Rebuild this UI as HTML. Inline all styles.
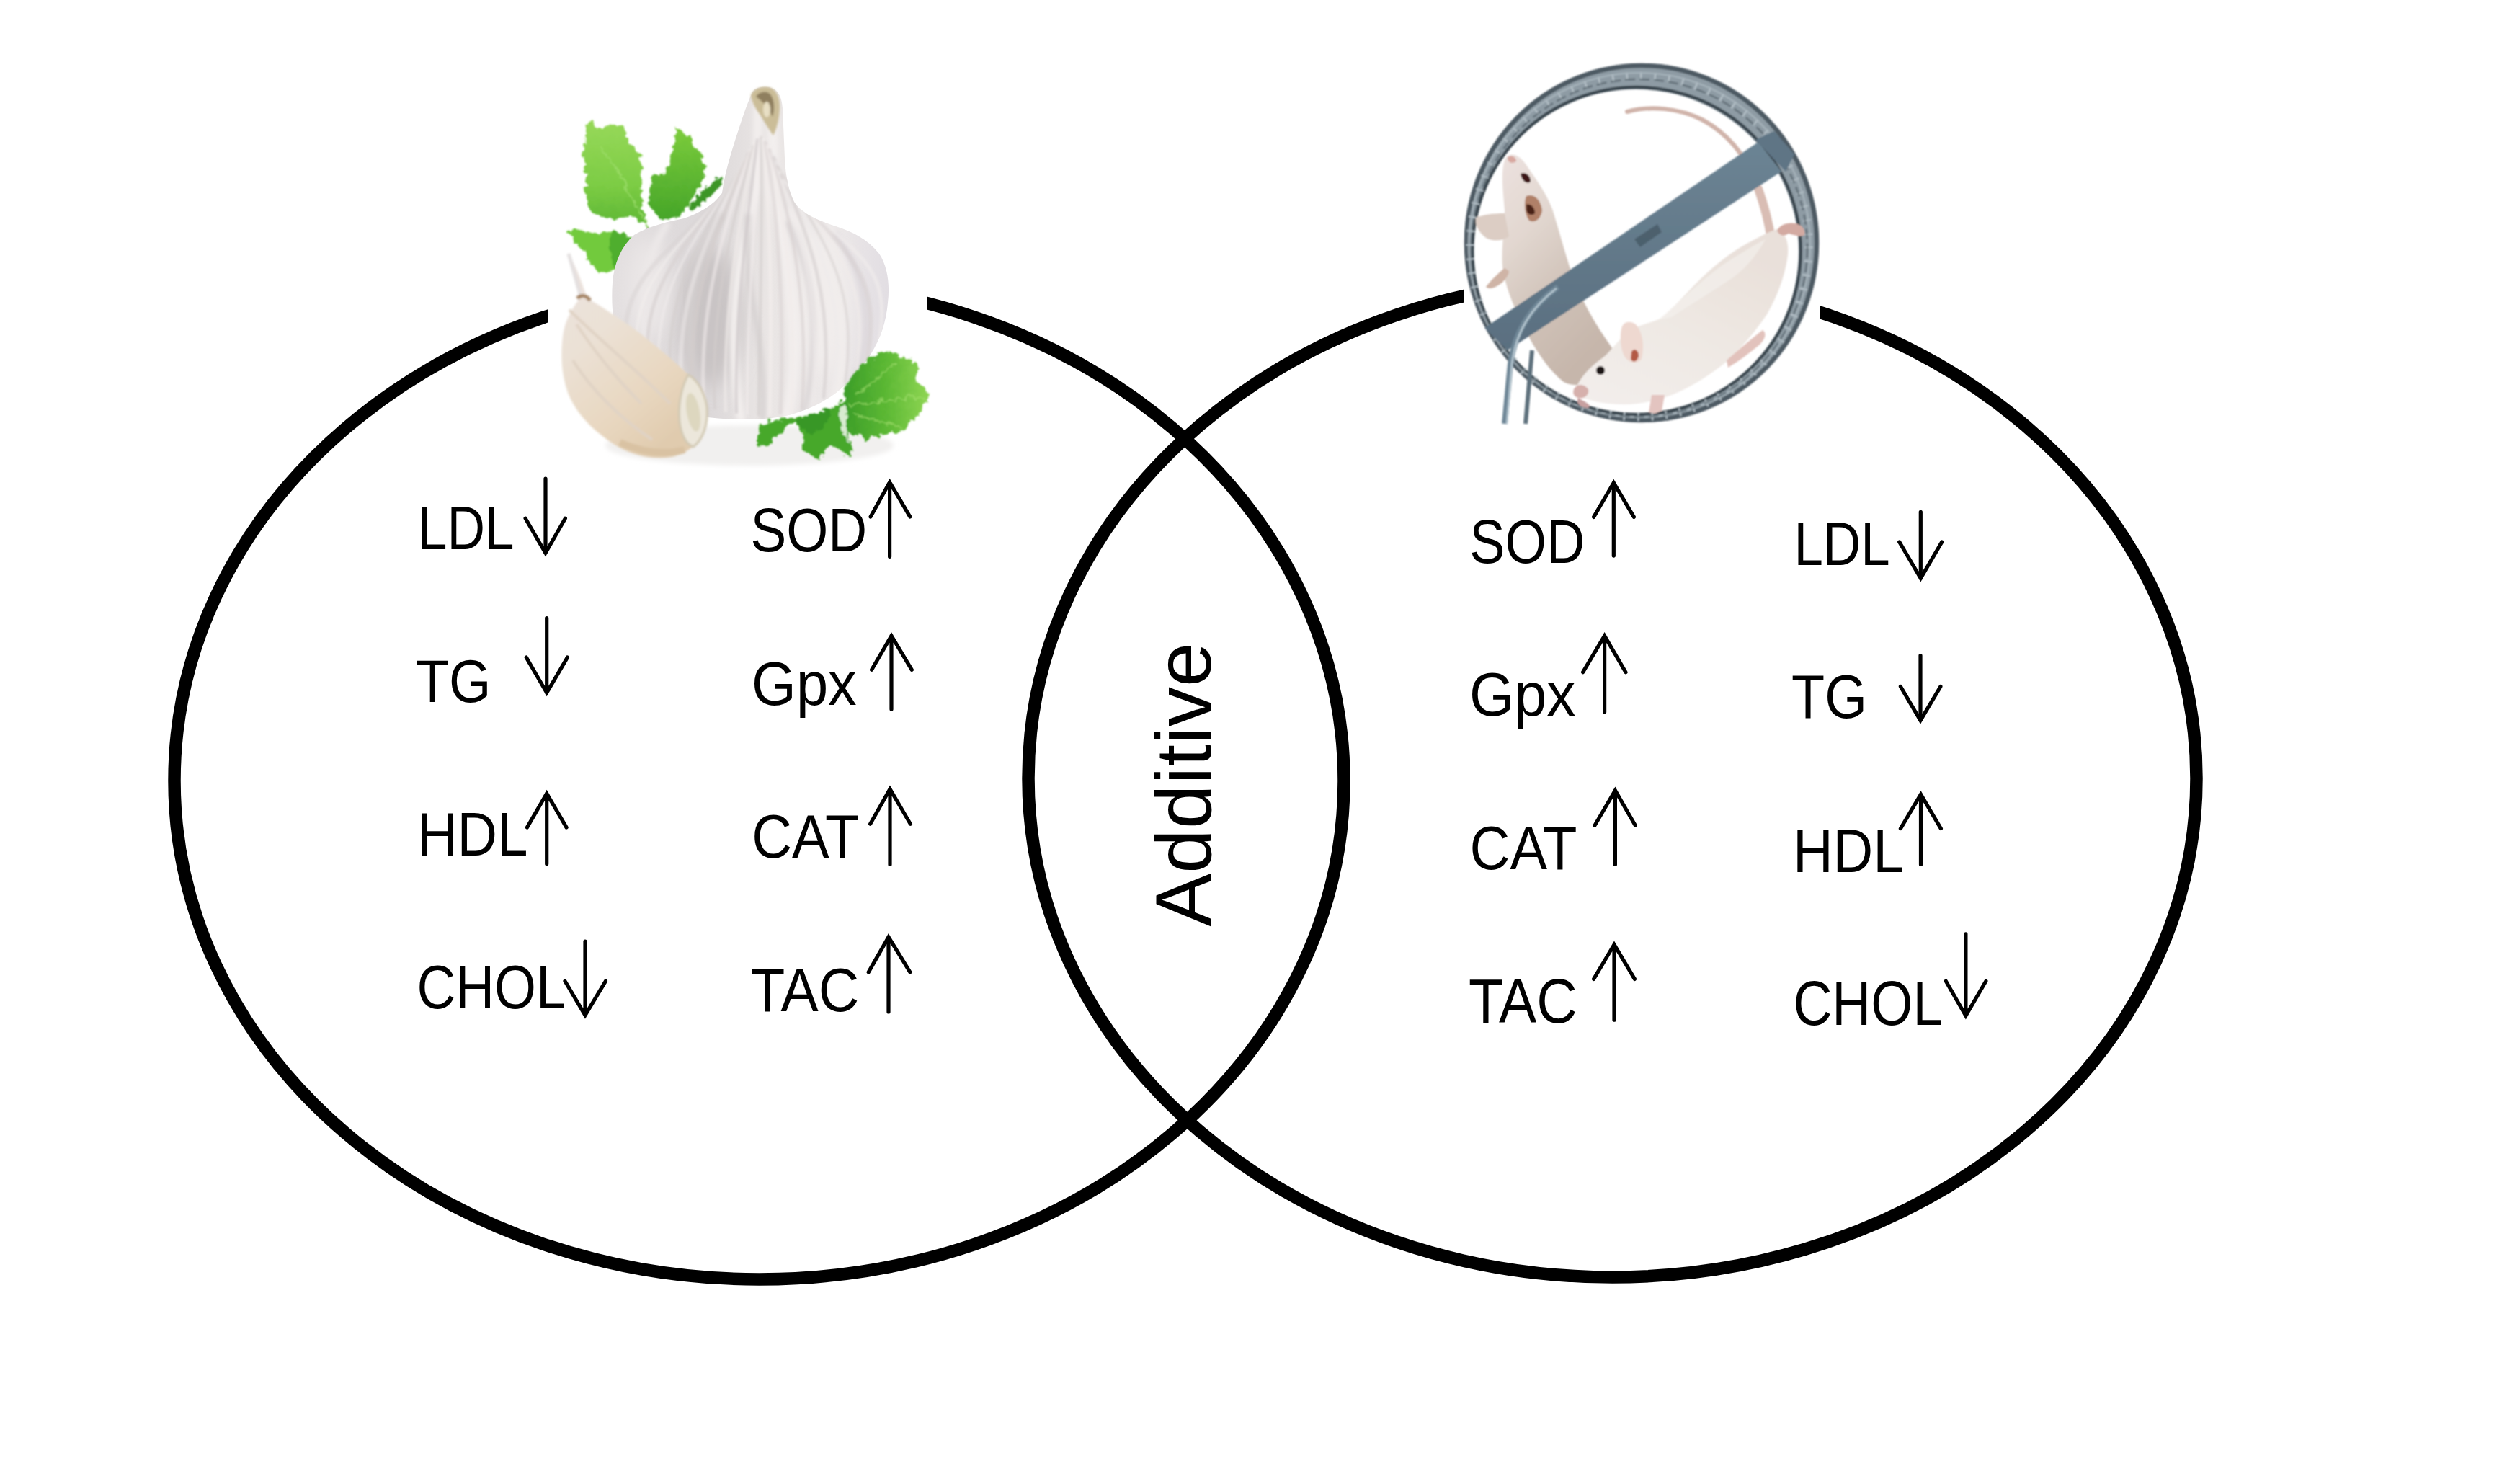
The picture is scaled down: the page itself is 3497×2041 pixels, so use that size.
<!DOCTYPE html>
<html><head><meta charset="utf-8"><title>Garlic and exercise Venn diagram</title>
<style>
html,body{margin:0;padding:0;background:#fff;}
body{width:3497px;height:2041px;overflow:hidden;font-family:"Liberation Sans", sans-serif;}
svg{display:block;}
</style></head><body>
<svg width="3497" height="2041" viewBox="0 0 3497 2041">
<rect width="3497" height="2041" fill="#fff"/>

<g fill="none" stroke="#000" stroke-width="17.5">
<ellipse cx="1053.5" cy="1083.3" rx="811.5" ry="691.7"/>
<ellipse cx="2237.5" cy="1080" rx="810.5" ry="692"/>
</g>

<g font-family='"Liberation Sans", sans-serif' fill="#000">
<text x="579.9" y="761.8" font-size="85.8" textLength="133.6" lengthAdjust="spacingAndGlyphs">LDL</text>
<text x="577.2" y="973.6" font-size="83.7" textLength="104.3" lengthAdjust="spacingAndGlyphs">TG</text>
<text x="578.9" y="1187.0" font-size="85.8" textLength="153.7" lengthAdjust="spacingAndGlyphs">HDL</text>
<text x="578.5" y="1399.0" font-size="85.8" textLength="206.9" lengthAdjust="spacingAndGlyphs">CHOL</text>
<text x="1041.5" y="765.4" font-size="85.5" textLength="161.7" lengthAdjust="spacingAndGlyphs">SOD</text>
<text x="1043.1" y="977.6" font-size="84.7" textLength="145.7" lengthAdjust="spacingAndGlyphs">Gpx</text>
<text x="1043.2" y="1190.4" font-size="86.0" textLength="149.1" lengthAdjust="spacingAndGlyphs">CAT</text>
<text x="1041.5" y="1403.0" font-size="85.8" textLength="150.7" lengthAdjust="spacingAndGlyphs">TAC</text>
<text x="2039.2" y="780.8" font-size="84.6" textLength="160.1" lengthAdjust="spacingAndGlyphs">SOD</text>
<text x="2039.0" y="993.0" font-size="84.6" textLength="147.5" lengthAdjust="spacingAndGlyphs">Gpx</text>
<text x="2039.6" y="1206.0" font-size="85.3" textLength="148.9" lengthAdjust="spacingAndGlyphs">CAT</text>
<text x="2038.0" y="1419.0" font-size="86.2" textLength="150.8" lengthAdjust="spacingAndGlyphs">TAC</text>
<text x="2489.4" y="783.5" font-size="85.5" textLength="133.3" lengthAdjust="spacingAndGlyphs">LDL</text>
<text x="2486.0" y="996.4" font-size="84.9" textLength="104.9" lengthAdjust="spacingAndGlyphs">TG</text>
<text x="2487.9" y="1209.5" font-size="85.9" textLength="154.3" lengthAdjust="spacingAndGlyphs">HDL</text>
<text x="2488.4" y="1422.0" font-size="87.6" textLength="207.6" lengthAdjust="spacingAndGlyphs">CHOL</text>
</g>
<g>
<g fill="none" stroke="#000" stroke-width="5.2" stroke-linecap="round" stroke-linejoin="miter">
<path d="M757.0 664.0L757.0 767.3M729.1 719.2L757.0 767.3L784.4 719.2"/>
<path d="M758.7 857.6L758.7 961.2M730.3 912.1L758.7 961.2L787.4 912.1"/>
<path d="M758.7 1198.4L758.7 1100.9M731.4 1148.1L758.7 1100.9L786.1 1148.1"/>
<path d="M812.0 1306.2L812.0 1408.6M784.0 1361.3L812.0 1408.6L840.4 1361.3"/>
<path d="M1234.6 772.3L1234.6 669.0M1208.1 717.1L1234.6 669.0L1262.9 717.1"/>
<path d="M1237.0 984.0L1237.0 882.1M1209.6 929.3L1237.0 882.1L1265.3 929.3"/>
<path d="M1235.0 1199.4L1235.0 1094.8M1207.6 1143.3L1235.0 1094.8L1263.4 1143.3"/>
<path d="M1233.0 1404.0L1233.0 1300.1M1205.2 1348.9L1233.0 1300.1L1262.9 1348.9"/>
<path d="M2239.3 771.1L2239.3 669.8M2211.6 717.4L2239.3 669.8L2267.4 717.4"/>
<path d="M2226.6 987.9L2226.6 882.1M2196.6 932.7L2226.6 882.1L2256.0 932.7"/>
<path d="M2241.4 1199.4L2241.4 1096.7M2213.0 1145.2L2241.4 1096.7L2269.3 1145.2"/>
<path d="M2240.0 1415.2L2240.0 1310.5M2211.6 1358.4L2240.0 1310.5L2268.4 1358.4"/>
<path d="M2665.3 710.3L2665.3 802.4M2635.7 751.9L2665.3 802.4L2694.8 751.9"/>
<path d="M2665.0 909.6L2665.0 999.6M2637.4 952.6L2665.0 999.6L2692.9 952.6"/>
<path d="M2665.5 1199.4L2665.5 1102.2M2637.4 1149.6L2665.5 1102.2L2693.4 1149.6"/>
<path d="M2727.9 1295.9L2727.9 1409.3M2700.3 1361.3L2727.9 1409.3L2755.9 1361.3"/>
</g>
<text transform="translate(1680.3 1285.5) rotate(-90)" x="0" y="0" font-family='"Liberation Sans", sans-serif' font-size="109" textLength="394" lengthAdjust="spacingAndGlyphs" fill="#000">Additive</text>

<defs>
<linearGradient id="bulbG" x1="0" y1="0" x2="1" y2="0">
<stop offset="0" stop-color="#e3dfe0"/>
<stop offset="0.35" stop-color="#dcd8d9"/>
<stop offset="0.55" stop-color="#e9e5e4"/>
<stop offset="0.8" stop-color="#ece8e8"/>
<stop offset="1" stop-color="#e2dee3"/>
</linearGradient>
<linearGradient id="cloveG" x1="0" y1="0" x2="0.6" y2="1">
<stop offset="0" stop-color="#ebe2e0"/>
<stop offset="0.4" stop-color="#ebe1d5"/>
<stop offset="0.75" stop-color="#e8d7c0"/>
<stop offset="1" stop-color="#e0cbae"/>
</linearGradient>
<linearGradient id="leafA" x1="0" y1="0" x2="0" y2="1">
<stop offset="0" stop-color="#96d858"/>
<stop offset="0.6" stop-color="#7ccc44"/>
<stop offset="1" stop-color="#5cb634"/>
</linearGradient>
<linearGradient id="leafB" x1="0" y1="0" x2="0" y2="1">
<stop offset="0" stop-color="#7ccc3c"/>
<stop offset="1" stop-color="#44a428"/>
</linearGradient>
<linearGradient id="leafE" x1="0" y1="0" x2="1" y2="0">
<stop offset="0" stop-color="#3b9d28"/>
<stop offset="0.5" stop-color="#5cb834"/>
<stop offset="1" stop-color="#8fd653"/>
</linearGradient>
<filter id="soft" x="-5%" y="-5%" width="110%" height="110%"><feGaussianBlur stdDeviation="1.4"/></filter>
<filter id="leafy" x="-10%" y="-10%" width="120%" height="120%"><feTurbulence type="turbulence" baseFrequency="0.07" numOctaves="2" seed="5" result="t"/><feDisplacementMap in="SourceGraphic" in2="t" scale="11" xChannelSelector="R" yChannelSelector="G" result="d"/><feGaussianBlur in="d" stdDeviation="1.1"/></filter>
<filter id="soft3" x="-10%" y="-10%" width="120%" height="120%"><feGaussianBlur stdDeviation="3"/></filter>
<filter id="soft12" x="-30%" y="-30%" width="160%" height="160%"><feGaussianBlur stdDeviation="14"/></filter>
<clipPath id="bulbClip"><path id="bulbP" d="M1044 128C1036 145 1028 170 1020 195C1012 220 1005 245 1002 268C990 285 970 296 949 303C925 308 900 314 880 326C862 342 852 365 850 392C848 420 850 450 860 485C875 530 910 560 960 575C995 583 1030 582 1060 581C1100 579 1137 563 1160 545C1185 525 1200 505 1208 492C1222 470 1230 445 1232 420C1235 395 1232 370 1220 352C1205 333 1185 322 1160 314C1135 306 1112 296 1102 280C1093 262 1090 240 1089 220L1086 150C1085 135 1080 123 1066 121C1055 120 1047 122 1044 128Z"/></clipPath>
</defs>
<rect x="760" y="121" width="527" height="526" fill="#fff"/>
<ellipse cx="1040" cy="618" rx="200" ry="28" fill="#f1f0ef" filter="url(#soft3)"/>
<!-- top-left parsley -->
<g filter="url(#leafy)">
<path d="M809.6 168.6L820.6 169.6L827 178L833.4 178.7L840 170L848 171.4L855.4 173L864.6 180.6L870 197L879 204.4L886.6 211.8L888.5 230L886.6 248.5L888.5 276L894 312L870 296L851.8 301.7L833.4 300L820.6 290.7L813 281.5L809.6 266.8L812 250L810.5 230L806 212L808.6 193.4Z" fill="url(#leafA)"/>
<path d="M894 312L890 300M852 230L888 300M830 200L870 260" stroke="#9ede6c" stroke-width="2.5" fill="none" opacity="0.7"/>
<path d="M916 305.4L895.8 279.7L899.5 252L906.8 239.3L918 237.5L925 226.5L932.5 193.4L936 175L943.5 177L954.6 188L958 199L971 210L976.6 230L973 248.5L962 266.8L952.7 281.5L940 296L925 303.5Z" fill="url(#leafB)"/>
<path d="M951 285L971 263L989.5 246.6L1000.5 242L995 256L976.6 276L954.6 290.7Z" fill="#3e9628"/>
<path d="M784.8 317L806 316.4L820 321L833.4 320L848 316.4L862.8 322L875.6 328.3L870 340L862.8 358.6L855.4 371.5L842.6 373.3L828 377L820.6 367.8L811.4 358.6L809.6 349.4L798.5 336.6L789.4 325.6Z" fill="#72ca3e"/>
<path d="M848 316.4L862.8 322L875.6 328.3L870 340L862.8 358.6L855.4 371.5L846 360L842 335Z" fill="#4fae2e"/>
<path d="M894 312L900 318" stroke="#4a6a30" stroke-width="3"/>
</g>
<!-- bulb -->
<use href="#bulbP" fill="url(#bulbG)"/>
<g clip-path="url(#bulbClip)">
<ellipse cx="985" cy="440" rx="45" ry="95" fill="#c9c4c5" filter="url(#soft12)"/>
<ellipse cx="1140" cy="420" rx="40" ry="100" fill="#f1edec" filter="url(#soft12)"/>
<ellipse cx="900" cy="400" rx="30" ry="70" fill="#ebe7e7" filter="url(#soft12)"/>
<g filter="url(#soft3)" fill="none" stroke-linecap="round">
<path d="M1052 140L1050 260C1040 300 1030 340 1022 400C1015 460 1018 520 1028 580" stroke="#f2eeed" stroke-width="12"/>
<path d="M1072 140L1074 270C1086 320 1096 380 1100 440C1104 500 1100 545 1092 580" stroke="#f3efee" stroke-width="14"/>
<path d="M1095 295C1130 330 1155 385 1165 440C1172 490 1168 530 1158 552" stroke="#f1edec" stroke-width="12"/>
<path d="M1000 300C975 340 962 390 958 440C955 490 962 530 975 570" stroke="#d2cdcd" stroke-width="12"/>
<path d="M1038 300C1032 350 1040 400 1050 450C1058 500 1060 540 1058 580" stroke="#d6d1d1" stroke-width="7"/>
<path d="M1092 310C1118 355 1128 410 1128 460C1128 510 1124 545 1114 575" stroke="#d9d4d5" stroke-width="6"/>
<path d="M1160 325C1190 365 1202 410 1202 450C1202 490 1192 515 1182 530" stroke="#dcd7db" stroke-width="7"/>
<path d="M925 312C900 350 890 400 893 450C897 500 915 540 945 570" stroke="#ece8e8" stroke-width="10"/>
</g>
<g filter="url(#soft)" fill="none" stroke-linecap="round">
<path d="M1022 251C924 361 847 385 872 515" stroke="#d8d2d2" stroke-width="6.3" opacity="0.54"/>
<path d="M1025 244C936 354 864 394 887 524" stroke="#f3efee" stroke-width="3.3" opacity="0.59"/>
<path d="M1028 238C947 348 881 402 902 532" stroke="#d8d2d2" stroke-width="5.0" opacity="0.72"/>
<path d="M1031 231C958 341 899 410 917 540" stroke="#f3efee" stroke-width="3.1" opacity="0.55"/>
<path d="M1033 225C969 335 916 417 932 547" stroke="#d3cdcc" stroke-width="3.8" opacity="0.59"/>
<path d="M1036 219C981 329 933 423 947 553" stroke="#f3efee" stroke-width="5.9" opacity="0.44"/>
<path d="M1039 213C992 323 950 428 962 558" stroke="#d3cdcc" stroke-width="5.2" opacity="0.60"/>
<path d="M1042 208C1003 318 968 433 977 563" stroke="#f3efee" stroke-width="5.0" opacity="0.54"/>
<path d="M1045 203C1014 313 985 437 992 567" stroke="#d3cdcc" stroke-width="3.2" opacity="0.70"/>
<path d="M1048 198C1025 308 1002 440 1007 570" stroke="#f1ecea" stroke-width="4.5" opacity="0.59"/>
<path d="M1051 194C1037 304 1019 442 1022 572" stroke="#cfcacb" stroke-width="4.1" opacity="0.69"/>
<path d="M1054 191C1048 301 1036 444 1037 574" stroke="#f3efee" stroke-width="3.4" opacity="0.60"/>
<path d="M1056 191C1059 301 1054 445 1053 575" stroke="#d3cdcc" stroke-width="4.3" opacity="0.59"/>
<path d="M1059 194C1070 304 1071 445 1068 575" stroke="#f3efee" stroke-width="5.0" opacity="0.62"/>
<path d="M1062 198C1082 308 1088 443 1083 573" stroke="#d8d2d2" stroke-width="5.4" opacity="0.55"/>
<path d="M1065 203C1093 313 1105 440 1098 570" stroke="#f1ecea" stroke-width="4.6" opacity="0.72"/>
<path d="M1068 208C1104 318 1122 436 1113 566" stroke="#d8d2d2" stroke-width="4.0" opacity="0.68"/>
<path d="M1071 213C1115 323 1140 429 1128 559" stroke="#efebeb" stroke-width="5.7" opacity="0.43"/>
<path d="M1074 219C1126 329 1157 421 1143 551" stroke="#d8d2d2" stroke-width="4.8" opacity="0.71"/>
<path d="M1077 225C1138 335 1174 411 1158 541" stroke="#efebeb" stroke-width="4.6" opacity="0.61"/>
<path d="M1079 231C1149 341 1191 400 1173 530" stroke="#d3cdcc" stroke-width="3.4" opacity="0.55"/>
<path d="M1082 238C1160 348 1209 386 1188 516" stroke="#f1ecea" stroke-width="3.5" opacity="0.57"/>
<path d="M1085 244C1171 354 1226 372 1203 502" stroke="#d3cdcc" stroke-width="6.4" opacity="0.43"/>
<path d="M1088 251C1182 361 1243 355 1218 485" stroke="#efebeb" stroke-width="5.0" opacity="0.71"/>
</g>
</g>
<!-- stem tip -->
<g filter="url(#soft)">
<path d="M1042 132C1046 123 1057 119 1067 121C1078 124 1083 136 1082 152C1081 166 1078 178 1073 188C1066 178 1060 168 1054 158C1048 150 1043 141 1042 132Z" fill="#cbbd98"/>
<path d="M1049 134C1053 128 1061 126 1067 129C1074 135 1076 149 1072 162C1067 151 1059 141 1049 134Z" fill="#8f7f5e"/>
<ellipse cx="1064" cy="152" rx="5" ry="11" fill="#e8dfc4"/>
</g>
<!-- clove -->
<g filter="url(#soft)">
<path d="M789 352C795 372 801 394 806 412C796 425 786 440 782 460C777 490 779 520 788 545C800 575 825 600 858 620C880 632 905 638 932 634C952 630 968 618 978 596C982 580 978 560 970 540C965 530 960 524 955 520C935 500 910 480 885 460C860 442 835 425 815 414C808 394 800 370 789 352Z" fill="url(#cloveG)"/>
<path d="M789 352C795 372 801 394 806 412" stroke="#e4e0e0" stroke-width="5" fill="none"/>
<path d="M801 414C807 408 814 410 819 417" stroke="#a58463" stroke-width="5" fill="none"/>
<g fill="none" stroke="#e0d3c5" stroke-width="4">
<path d="M800 450C820 480 850 520 890 560"/><path d="M795 500C820 540 860 580 905 610"/><path d="M790 430C830 470 880 510 930 560"/>
</g>
<path d="M860 614C890 627 920 632 950 624" stroke="#d9c2a3" stroke-width="10" fill="none"/>
<path d="M955 520C968 527 978 545 981 565C983 590 975 610 962 620C950 615 945 600 943 585C941 565 944 540 955 520Z" fill="#ece7db" stroke="#d2c9b3" stroke-width="3"/>
<ellipse cx="962" cy="572" rx="9" ry="27" fill="#ddd7bf" transform="rotate(-10 962 572)"/>
</g>
<!-- bottom-right parsley -->
<g filter="url(#leafy)">
<path d="M1050 589L1067 581L1095.6 577.5L1124 571.7L1152.7 562L1168 552.7L1173.7 560L1175.6 579.4L1179.4 630.8L1171.8 628.8L1162 617.4L1143 619.3L1133.7 634.5L1124 630.8L1114.7 625L1109 598.4L1101.4 581L1091.8 589L1076.6 602.2L1061.4 615.5L1050 617.4Z" fill="#46a82c"/>
<path d="M1101 581L1124 572L1152 562L1140 590L1120 600Z" fill="#2f8c22" opacity="0.6"/>
<path d="M1168 537.5L1181 514.7L1200 499.4L1215.6 488L1229 484L1238.4 486L1253.6 493.7L1267 501.3L1272.6 510.8L1265 522.3L1276.5 533.7L1286 545L1282 556.5L1272.6 570L1263 579.4L1248 594.6L1238.4 598.4L1219.4 602L1200 609.8L1190.8 604L1177.5 598.4L1171.8 579.4L1170 560Z" fill="url(#leafE)"/>
<path d="M1175 560L1280 548M1180 570L1250 590M1185 545L1240 500" stroke="#a4e070" stroke-width="2.5" fill="none" opacity="0.6"/>
<path d="M1160 566L1170 560L1174 590L1176 612L1166 600Z" fill="#d8ebd0"/>
</g>

<defs>
<linearGradient id="m1G" x1="0" y1="0" x2="0.5" y2="1">
<stop offset="0" stop-color="#ece2df"/>
<stop offset="0.35" stop-color="#e2d7d0"/>
<stop offset="0.7" stop-color="#cfc1b7"/>
<stop offset="1" stop-color="#c6b6ab"/>
</linearGradient>
<linearGradient id="m2G" x1="0" y1="1" x2="0.6" y2="0">
<stop offset="0" stop-color="#f3eeec"/>
<stop offset="0.5" stop-color="#efe9e4"/>
<stop offset="1" stop-color="#e9e0da"/>
</linearGradient>
<linearGradient id="barG" x1="0" y1="0" x2="0" y2="1">
<stop offset="0" stop-color="#6c8494"/>
<stop offset="1" stop-color="#5a6f80"/>
</linearGradient>
<filter id="msoft" x="-5%" y="-5%" width="110%" height="110%"><feGaussianBlur stdDeviation="1.3"/></filter>
</defs>
<rect x="2031" y="60" width="494" height="529" fill="#fff"/>
<g filter="url(#msoft)">
<!-- rim -->
<path fill-rule="evenodd" fill="#8e9ba4" d="M2032 337A246 249 0 1 0 2524 337A246 249 0 1 0 2032 337ZM2044 349A226 225 0 1 0 2496 349A226 225 0 1 0 2044 349Z"/>
<ellipse cx="2278" cy="337" rx="243" ry="246" fill="none" stroke="#4d5a63" stroke-width="6.5"/>
<ellipse cx="2271" cy="348" rx="227.8" ry="227" fill="none" stroke="#3a474f" stroke-width="4.5"/>
<ellipse cx="2275" cy="342" rx="235" ry="236.5" fill="none" stroke="#b9c4cb" stroke-width="11" stroke-dasharray="2.5 17" opacity="0.85"/>
<ellipse cx="2275" cy="340" rx="237" ry="239" fill="none" stroke="#a9b5bd" stroke-width="2.5" opacity="0.8"/>
<ellipse cx="2275" cy="344" rx="233" ry="234" fill="none" stroke="#46535c" stroke-width="3" stroke-dasharray="14 6" opacity="0.5"/>
<!-- mouse 1 (upright, behind bar) -->
<path d="M2088 222C2094 210 2108 212 2120 232C2134 252 2150 275 2156 296C2164 322 2172 352 2180 376C2192 412 2212 448 2238 484L2232 520C2210 535 2185 538 2170 530C2150 515 2130 485 2115 455C2100 425 2088 395 2085 370C2083 345 2088 315 2088 292C2086 268 2082 240 2088 222Z" fill="url(#m1G)"/>
<path d="M2088 296C2072 296 2058 298 2048 302C2046 312 2052 322 2062 330C2074 336 2086 334 2094 328Z" fill="#dccdc4"/>
<path d="M2088 372C2078 380 2068 390 2062 398C2066 402 2074 400 2082 394C2090 388 2094 380 2094 376Z" fill="#cfb4a6"/>
<path d="M2118 272C2128 268 2138 276 2140 292C2138 304 2130 310 2122 306C2116 298 2114 282 2118 272Z" fill="#b08068"/>
<path d="M2118 284C2124 282 2130 288 2130 296C2126 300 2120 298 2118 292Z" fill="#4a2018"/>
<path d="M2110 241C2117 238 2124 243 2124 252C2119 256 2112 252 2110 241Z" fill="#3e1614"/>
<path d="M2092 218C2098 214 2104 218 2104 224C2098 228 2092 226 2092 218Z" fill="#d8a8a0"/>
<!-- tail -->
<path d="M2258 155C2290 146 2330 150 2362 166C2392 182 2420 210 2438 255C2450 285 2455 310 2458 330" fill="none" stroke="#d0b4aa" stroke-width="6" stroke-linecap="round"/>
<path d="M2440 262C2450 290 2455 312 2458 332" fill="none" stroke="#d9bdb4" stroke-width="12" stroke-linecap="round"/>
<!-- bar -->
<path d="M2060 455L2440 197L2472 238L2092 486Z" fill="url(#barG)"/>
<path d="M2436 194L2462 182L2490 214L2478 238Z" fill="#5f7585"/>
<path d="M2268 332L2300 311L2306 322L2276 343Z" fill="#3a4a56" opacity="0.55"/>
<!-- stand rods -->
<path d="M2162 398C2126 424 2102 458 2096 505L2088 588" fill="none" stroke="#6f8797" stroke-width="8"/>
<path d="M2160 400C2126 426 2104 458 2098 505L2091 588" fill="none" stroke="#b5c6d0" stroke-width="2.5"/>
<path d="M2126 486L2117 588" fill="none" stroke="#5d6f7b" stroke-width="6"/>
<!-- mouse 2 (running, front) -->
<path d="M2186 541C2192 525 2205 510 2222 498C2236 488 2246 470 2262 458C2280 450 2295 446 2305 442C2325 425 2342 404 2362 385C2382 366 2402 350 2424 338C2440 330 2452 322 2466 318C2478 322 2484 338 2480 360C2476 385 2466 412 2452 436C2436 460 2415 485 2392 505C2370 522 2345 538 2320 548C2296 557 2270 562 2246 561C2224 560 2205 556 2192 550Z" fill="url(#m2G)"/>
<path d="M2250 456C2252 446 2262 444 2270 450C2280 462 2282 480 2278 498C2272 506 2260 504 2254 494C2248 482 2248 466 2250 456Z" fill="#eed8d0"/>
<path d="M2264 488C2268 482 2274 486 2274 494C2272 502 2266 504 2263 498Z" fill="#b35a44"/>
<circle cx="2221" cy="514" r="6" fill="#1e1414"/>
<path d="M2184 540C2188 532 2198 532 2204 540C2206 548 2198 554 2190 552C2184 550 2182 546 2184 540Z" fill="#d6b0ac"/>
<path d="M2190 552C2200 558 2210 562 2204 566C2194 566 2186 560 2190 552Z" fill="#c7a0a0"/>
<path d="M2292 548L2310 548L2306 570L2296 574L2288 572Z" fill="#e3c4c0"/>
<path d="M2396 500C2410 488 2430 470 2446 458C2452 462 2450 470 2442 478C2428 490 2410 503 2398 510Z" fill="#e2c2bc"/>
<path d="M2466 320C2470 312 2480 308 2492 310C2500 312 2506 318 2504 326C2498 330 2490 326 2482 324C2476 328 2470 328 2466 320Z" fill="#d3aaa2"/>
<path d="M2300 444C2330 420 2360 390 2390 368C2410 355 2430 342 2450 332C2440 350 2425 370 2405 385C2380 402 2350 420 2320 440Z" fill="#f5f1ef" opacity="0.6"/>
</g>

</svg>
</body></html>
